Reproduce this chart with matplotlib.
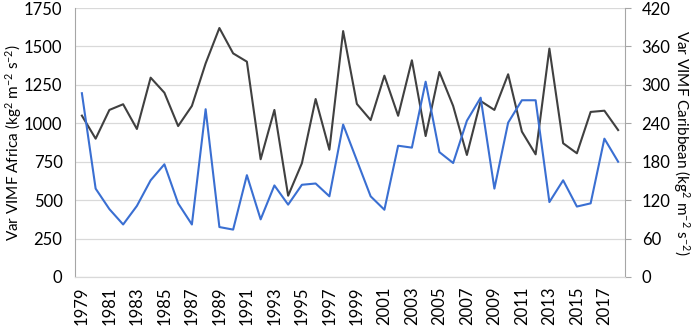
import matplotlib.pyplot as plt
import numpy as np

plt.rcParams['font.family'] = ['Lato', 'DejaVu Sans']
plt.rcParams['mathtext.fontset'] = 'custom'
plt.rcParams['mathtext.rm'] = 'Lato'
plt.rcParams['mathtext.it'] = 'Lato'

years = list(range(1979, 2019))
africa = [1050, 900, 1087, 1124, 963, 1297, 1199, 982, 1113, 1390,
          1620, 1455, 1401, 766, 1087, 529, 740, 1158, 828, 1600,
          1126, 1021, 1310, 1049, 1410, 917, 1334, 1113, 794, 1145,
          1087, 1319, 946, 798, 1486, 870, 805, 1074, 1082, 956]
caribbean = [287, 138, 106, 82, 111, 151, 176, 115, 82, 262,
             78, 74, 159, 90, 143, 113, 144, 146, 126, 238,
             182, 126, 105, 205, 202, 305, 195, 178, 244, 280,
             138, 241, 276, 276, 117, 151, 110, 115, 216, 180]
tick_years = years[::2]

fig = plt.figure(figsize=(6.92, 3.28), dpi=100)
ax = fig.add_axes([0.1084, 0.1555, 0.7948, 0.82])
ax2 = ax.twinx()

ax.plot(years, africa, color='#404040', lw=1.5, zorder=3)
ax2.plot(years, caribbean, color='#3a6fd2', lw=1.5, zorder=3)

ax.set_ylim(0, 1750)
ax.set_yticks(np.arange(0, 1751, 250))
ax2.set_ylim(0, 420)
ax2.set_yticks(np.arange(0, 421, 60))
ax.set_xlim(1978.5, 2018.5)
ax.set_xticks(tick_years)
ax.set_xticklabels([str(y) for y in tick_years], rotation=90)

ax.grid(axis='y', color='#d9d9d9', lw=0.9)
ax.set_axisbelow(True)

for a in (ax, ax2):
    a.spines['top'].set_visible(False)
    a.spines['bottom'].set_color('#d9d9d9')
    a.spines['left'].set_color('#a6a6a6')
    a.spines['right'].set_color('#a6a6a6')
    a.tick_params(labelsize=12, colors='black')
ax2.spines['left'].set_visible(False)
ax.spines['right'].set_visible(False)
ax.tick_params(axis='y', length=0, pad=9)
ax.tick_params(axis='x', length=0, pad=7)
ax2.tick_params(axis='y', length=4, color='#a6a6a6', pad=8)

ax.set_ylabel('Var VIMF Africa (kg$^{2}$ m$^{-2}$ s$^{-2}$)', fontsize=11, va='center')
ax.yaxis.set_label_coords(-0.112, 0.5)
ax2.set_ylabel('Var VIMF Caribbean (kg$^{2}$ m$^{-2}$ s$^{-2}$)', fontsize=11,
               rotation=-90, va='center')
ax2.yaxis.set_label_coords(1.102, 0.5)

fig.savefig('out.png', dpi=100)
